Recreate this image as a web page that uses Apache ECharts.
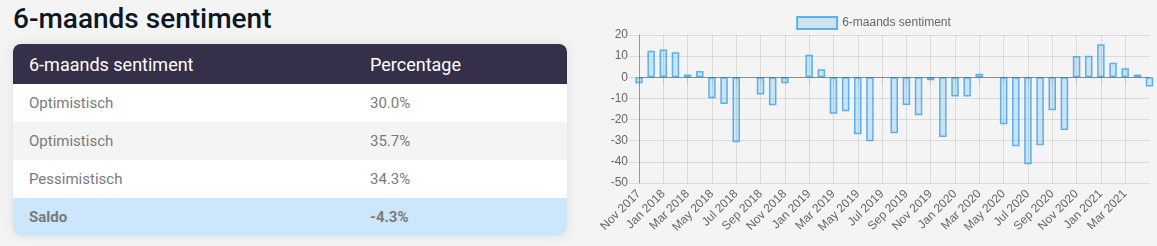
<!DOCTYPE html>
<html>
<head>
<meta charset="utf-8">
<script src="https://cdn.jsdelivr.net/npm/echarts@6/dist/echarts.min.js"></script>
<style>
  html, body { margin: 0; padding: 0; background: #f4f4f4; width: 1157px; height: 246px; overflow: hidden; }
  #title { position: absolute; left: 13px; top: 2px; font-family: Roboto, sans-serif; font-size: 28px; font-weight: 500; color: #0d1824; margin: 0; line-height: 34px; }
  #card { position: absolute; left: 13px; top: 44px; width: 554px; height: 192px; border-radius: 8px; overflow: hidden; background: #fff; box-shadow: 0 0 12px rgba(0,0,0,0.09); }
  table { border-collapse: collapse; width: 100%; font-family: Roboto, sans-serif; }
  th { background: #352f4a; color: #fff; font-weight: 400; font-size: 18px; text-align: left; height: 40px; padding: 0 0 0 16px; }
  td { font-size: 15px; color: #7a7a7a; height: 38px; padding: 0 0 0 16px; }
  tr.alt td { background: #f4f4f4; }
  tr.saldo td { background: #cce6fc; font-weight: 700; }
  .c2 { width: 197px; padding-left: 0; }
  #chart { position: absolute; left: 590px; top: 0; width: 567px; height: 246px; }
</style>
</head>
<body>
<h1 id="title"></h1>
<div id="card"><table id="tbl"></table></div>
<div id="chart"></div>
<script>
const pageTitle = "6-maands sentiment";
const tableHeaders = ["6-maands sentiment", "Percentage"];
const tableLabels = ["Optimistisch", "Optimistisch", "Pessimistisch", "Saldo"];
const tableValues = ["30.0%", "35.7%", "34.3%", "-4.3%"];

const seriesName = "6-maands sentiment";
const months = [
  "Nov 2017","Dec 2017",
  "Jan 2018","Feb 2018","Mar 2018","Apr 2018","May 2018","Jun 2018","Jul 2018","Aug 2018","Sep 2018","Oct 2018","Nov 2018","Dec 2018",
  "Jan 2019","Feb 2019","Mar 2019","Apr 2019","May 2019","Jun 2019","Jul 2019","Aug 2019","Sep 2019","Oct 2019","Nov 2019","Dec 2019",
  "Jan 2020","Feb 2020","Mar 2020","Apr 2020","May 2020","Jun 2020","Jul 2020","Aug 2020","Sep 2020","Oct 2020","Nov 2020","Dec 2020",
  "Jan 2021","Feb 2021","Mar 2021","Apr 2021","May 2021"
];
const sentimentValues = [
  -2.8, 12.6,
  13.2, 11.8, 1.3, 3.0, -9.9, -12.6, -30.7, null, -8.2, -13.2, -2.8, null,
  10.6, 3.8, -17.3, -16.1, -27.0, -30.3, null, -26.5, -13.1, -18.0, -1.4, -28.2,
  -9.1, -9.1, 1.7, null, -22.2, -32.6, -41.1, -32.2, -15.6, -24.9, 10.1, 10.2,
  15.6, 6.9, 4.3, 1.3, -4.3
];
const yMin = -50, yMax = 20, yStep = 10;

document.getElementById('title').textContent = pageTitle;
const tbl = document.getElementById('tbl');
let html = '<tr><th>' + tableHeaders[0] + '</th><th class="c2">' + tableHeaders[1] + '</th></tr>';
tableLabels.forEach((l, i) => {
  const cls = i === tableLabels.length - 1 ? 'saldo' : (i % 2 === 1 ? 'alt' : '');
  html += '<tr class="' + cls + '"><td>' + l + '</td><td class="c2">' + tableValues[i] + '</td></tr>';
});
tbl.innerHTML = html;

const grid = 'rgba(0,0,0,0.1)';
const lastIdx = months.length - 1;
const showIdx = (i) => i % 2 === 0 && i < lastIdx;

const chart = echarts.init(document.getElementById('chart'), null, { renderer: 'canvas' });
chart.setOption({
  animation: false,
  textStyle: { fontFamily: '"Liberation Sans", Arial, sans-serif' },
  legend: {
    top: 11, left: 'center',
    itemWidth: 40, itemHeight: 12, itemGap: 10,
    textStyle: { fontSize: 12, color: '#666', fontFamily: '"Liberation Sans", Arial, sans-serif' },
    data: [{ name: seriesName, icon: 'rect' }]
  },
  grid: { left: 49, right: 7.5, top: 35, bottom: 63, containLabel: false },
  xAxis: {
    type: 'category', data: months, boundaryGap: false,
    axisLine: { show: true, lineStyle: { color: 'rgba(0,0,0,0.15)' } },
    axisTick: { show: true, length: 8, interval: (i) => showIdx(i), lineStyle: { color: grid } },
    axisLabel: { interval: (i) => showIdx(i), rotate: 45, margin: 9, fontSize: 12, color: '#666' },
    splitLine: { show: true, interval: (i) => showIdx(i), lineStyle: { color: grid } }
  },
  yAxis: {
    type: 'value', min: yMin, max: yMax, interval: yStep,
    axisLine: { show: true, lineStyle: { color: 'rgba(0,0,0,0.3)' } },
    axisTick: { show: true, length: 10, lineStyle: { color: grid } },
    axisLabel: { margin: 11, fontSize: 12, color: '#666' },
    splitLine: { show: true, lineStyle: { color: grid } }
  },
  series: [{
    name: seriesName, type: 'bar', data: sentimentValues, barWidth: 7.5, clip: true,
    itemStyle: { color: 'rgba(54,162,235,0.2)', borderColor: 'rgba(54,162,235,0.8)', borderWidth: 1.5 },
    markLine: {
      silent: true, symbol: 'none', label: { show: false },
      lineStyle: { color: 'rgba(0,0,0,0.25)', type: 'solid', width: 1 },
      data: [{ yAxis: 0 }]
    }
  }]
});
</script>
</body>
</html>
